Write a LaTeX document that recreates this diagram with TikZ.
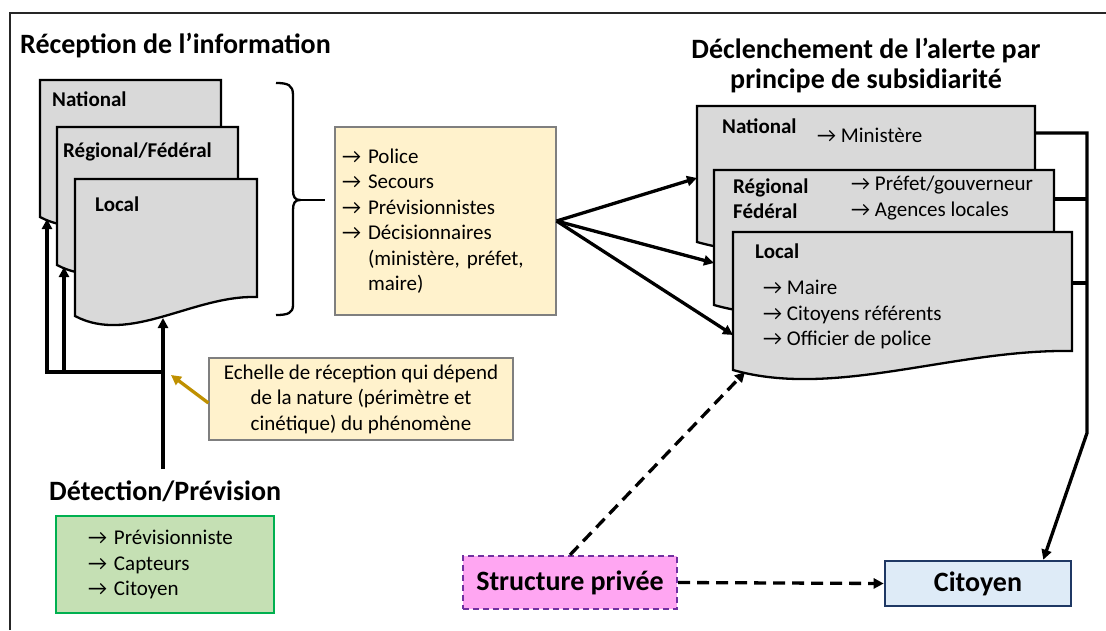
\documentclass[tikz,border=0pt]{standalone}
\usepackage{fontspec}
\setmainfont{Carlito}
\usetikzlibrary{arrows.meta,calc}
\definecolor{docgray}{HTML}{D9D9D9}
\definecolor{lightyel}{HTML}{FFF2CC}
\definecolor{boxedge}{HTML}{7F7F7F}
\definecolor{grfill}{HTML}{C5E0B4}
\definecolor{grline}{HTML}{00B050}
\definecolor{pinkfill}{HTML}{FFA6F2}
\definecolor{purpline}{HTML}{7030A0}
\definecolor{citfill}{HTML}{DEEBF7}
\definecolor{citline}{HTML}{1F3864}
\definecolor{goldc}{HTML}{BF9000}
\newcommand\docshape[1]{%
  \draw[docline] (#1.north west) -- (#1.north east) -- ($(#1.south east)+(0,-19)$)
  .. controls ($(#1.south east)!0.35!(#1.south west)+(0,-21)$) and ($(#1.south west)!0.3!(#1.south east)+(0,29)$) .. (#1.south west) -- cycle;}
\begin{document}
\begin{tikzpicture}[x=1pt,y=-1pt,
  docframe/.style={rectangle, draw=none, inner sep=0pt, outer sep=0pt, anchor=north west},
  docline/.style={draw=black, line width=2.3pt, fill=docgray},
  conn/.style={line width=3.3pt, -{Triangle[length=10pt,width=10pt]}},
  plainc/.style={line width=3.3pt},
  dashc/.style={line width=3.3pt, dash pattern=on 12pt off 7pt, -{Triangle[length=10pt,width=10pt]}},
  body/.style={font=\fontsize{21}{25.5}\selectfont\frenchspacing, inner sep=0pt},
  bodyb/.style={font=\fontsize{21}{25.5}\selectfont\bfseries, inner sep=0pt},
  titlef/.style={font=\fontsize{28}{30.5}\selectfont\bfseries, inner sep=0pt},
]
\useasboundingbox (0,0) rectangle (1106,630);
\draw[line width=2.2pt, black!85] (10,630) -- (10,13) -- (1106,13);

% titles
\node[titlef, anchor=base west] (t1) at (20,53) {Réception de l’information};
\node[titlef, align=center, anchor=north] (t2) at (866,37.5) {Déclenchement de l’alerte par\\principe de subsidiarité};
\node[titlef, anchor=base west] (det) at (49,500) {Détection/Prévision};

% left documents
\node[docframe, minimum width=181, minimum height=137] (lnat) at (40,80) {};
\node[docframe, minimum width=181, minimum height=138] (lreg) at (57,127) {};
\node[docframe, minimum width=182, minimum height=137] (lloc) at (75,179) {};
\docshape{lnat}
\docshape{lreg}
\docshape{lloc}
\node[bodyb, anchor=base west] (lnatl) at (52,106) {National};
\node[bodyb, anchor=base west] (lregl) at (63,157) {Régional/Fédéral};
\node[bodyb, anchor=base west] (llocl) at (95,211) {Local};

% right documents
\node[docframe, minimum width=338, minimum height=136] (rnat) at (697,106) {};
\node[docframe, minimum width=340, minimum height=135] (rreg) at (714,170) {};
\node[docframe, minimum width=339, minimum height=138] (rloc) at (733,232) {};
\docshape{rnat}
\docshape{rreg}
\docshape{rloc}
\node[bodyb, anchor=base west] (rnatl) at (722,133) {National};
\node[body, anchor=base west] (rnatt) at (817,142) {→ Ministère};
\node[bodyb, anchor=base west] (rregl1) at (733,193) {Régional};
\node[bodyb, anchor=base west] (rregl2) at (733,218) {Fédéral};
\node[body, anchor=base west] (rregt1) at (851,190) {→ Préfet/gouverneur};
\node[body, anchor=base west] (rregt2) at (851,216) {→ Agences locales};
\node[bodyb, anchor=base west] (rlocl) at (755,258) {Local};
\node[body, anchor=base west] (rloct1) at (763,294) {→ Maire};
\node[body, anchor=base west] (rloct2) at (763,320) {→ Citoyens référents};
\node[body, anchor=base west] (rloct3) at (763,345) {→ Officier de police};

% boxes
\node[body, draw=boxedge, line width=1.2pt, fill=lightyel, align=left, text width=207pt,
      inner xsep=7pt, minimum height=188pt] (ybox) at (445.5,221)
  {→ Police\\→ Secours\\→ Prévisionnistes\\→ Décisionnaires\\\phantom{→ }(ministère, préfet,\\\phantom{→ }maire)};
\node[body, draw=boxedge, line width=1.2pt, fill=lightyel, align=center,
      minimum width=304pt, minimum height=82pt] (callout) at (361,399)
  {Echelle de réception qui dépend\\de la nature (périmètre et\\cinétique) du phénomène};
\node[body, draw=grline, line width=2.5pt, fill=grfill, align=left, text width=154pt,
      inner xsep=32pt, minimum height=97pt] (green) at (165,564.5)
  {→ Prévisionniste\\→ Capteurs\\→ Citoyen};
\node[titlef, draw=purpline, line width=2.2pt, dash pattern=on 6pt off 4pt, fill=pinkfill,
      minimum width=214pt, minimum height=53pt] (sp) at (570,582.5) {Structure privée};
\node[titlef, draw=citline, line width=2.6pt, fill=citfill,
      minimum width=186pt, minimum height=45pt] (cit) at (978,583.5) {Citoyen};

% brace
\coordinate (btip) at (300,200);
\draw[line width=2.3pt] (276,83) .. controls (288,83) and (293,85) .. (293,95) -- (293,190)
  .. controls (293,197) and (295,200) .. (btip) .. controls (295,200) and (293,203) .. (293,210)
  -- (293,305) .. controls (293,313) and (288,315) .. (276,315);
\coordinate (bend) at (325,200);
\draw[line width=2.3pt] (btip) -- (bend);

% left connectors
\coordinate (j1) at (47,372);
\coordinate (j2) at (64,372);
\coordinate (j3) at (163,372);
\coordinate (dtop) at (163,469);
\coordinate (tnat) at ($(lnat.south west)+(7,2)$);
\coordinate (treg) at ($(lreg.south west)+(7,2)$);
\coordinate (tloc) at (163,318);
\draw[conn] (dtop) -- (tloc);
\draw[conn] (j3) -- (j1) -- (tnat);
\draw[conn] (j2) -- (treg);
\coordinate (ctip) at (171,375);
\draw[line width=3.3pt, goldc, -{Triangle[length=10pt,width=10pt]}] ($(callout.west)+(0,4)$) -- (ctip);

% yellow box to right documents
\coordinate (rnatin) at ($(rnat.north west)+(0,72)$);
\coordinate (rregin) at ($(rreg.north west)+(0,93)$);
\coordinate (rlocin) at ($(rloc.north west)+(0,103)$);
\draw[conn] (ybox.east) -- (rnatin);
\draw[conn] (ybox.east) -- (rregin);
\draw[conn] (ybox.east) -- (rlocin);

% right collector
\coordinate (c1) at ($(rnat.north east)+(0,27)$);
\coordinate (c2) at ($(rreg.north east)+(0,29)$);
\coordinate (c3) at ($(rloc.north east)+(0,51)$);
\coordinate (bus1) at (1087,133);
\coordinate (bus2) at (1087,199);
\coordinate (bus3) at (1087,283);
\coordinate (busb) at (1087,433);
\coordinate (citin) at ($(cit.north east)+(-29,0)$);
\draw[conn] (c1) -- (bus1) -- (busb) -- (citin);
\draw[plainc] (c2) -- (bus2);
\draw[plainc] (c3) -- (bus3);

% dashed
\coordinate (rloctip) at ($(rloc.south west)+(12,2)$);
\draw[dashc] (sp.east) -- (cit.west);
\draw[dashc] (sp.north) -- (rloctip);
\end{tikzpicture}
\end{document}
